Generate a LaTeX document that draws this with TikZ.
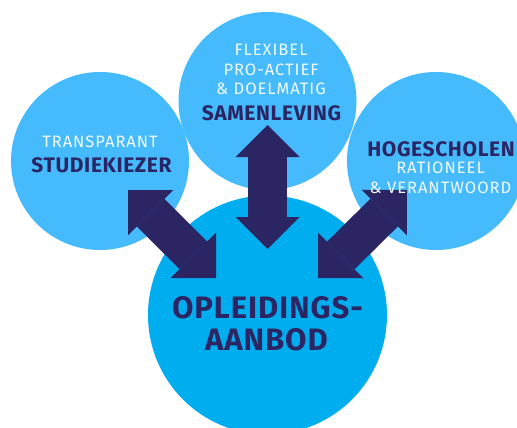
\documentclass[tikz,border=0pt]{standalone}
\usepackage{fontspec}
\setmainfont{Fira Sans}
\newfontfamily\dinreg[LetterSpace=6]{Fira Sans}
\newfontfamily\dinbold[LetterSpace=3]{Fira Sans}
\usetikzlibrary{positioning, arrows.meta, calc}
\definecolor{cirlight}{HTML}{45BBFD}
\definecolor{cirbig}{HTML}{00ADEE}
\definecolor{arrnavy}{HTML}{2B2564}
\definecolor{txtwhite}{HTML}{F2FAFF}

\tikzset{
  smallcirc/.style={circle, fill=cirlight, minimum size=178pt, inner sep=0pt},
  bigcirc/.style={circle, fill=cirbig, minimum size=239pt, inner sep=0pt},
  lighttxt/.style={text=txtwhite, anchor=base, inner sep=0pt, font=\dinreg\fontsize{16.5}{19}\selectfont},
  boldtxt/.style={text=arrnavy, anchor=base, inner sep=0pt, font=\dinbold\bfseries\fontsize{21}{24}\selectfont},
  hugetxt/.style={text=arrnavy, anchor=base, inner sep=0pt, font=\dinbold\bfseries\fontsize{31}{35}\selectfont},
  dblarrow/.style={line width=39pt, color=arrnavy,
    {Triangle[length=32pt,width=64pt,line width=0pt]}-{Triangle[length=32pt,width=64pt,line width=0pt]}},
}

\begin{document}
\begin{tikzpicture}[x=1pt, y=-1pt]
    \useasboundingbox (0,0) rectangle (517,428);
    \clip (0,0) rectangle (517,428);

    % circles
    \node[smallcirc] (studie) at (100,161) {};
    \node[smallcirc] (samen) at (267.5,101) {};
    \node[smallcirc] (hoge) at (436,161) {};
    \node[bigcirc] (aanbod) at (267.5,315) {};

    % arrow ends
    \coordinate (samen-end) at ($(samen)+(0,24)$);
    \coordinate (aanbod-top) at ($(aanbod)+(0,-66)$);
    \coordinate (studie-end) at ($(studie)+(28,29)$);
    \coordinate (aanbod-left) at ($(aanbod)+(-51.5,-37)$);
    \coordinate (hoge-end) at ($(hoge)+(-29,29)$);
    \coordinate (aanbod-right) at ($(aanbod)+(50.5,-37)$);

    \draw[dblarrow] (samen-end) -- (aanbod-top);
    \draw[dblarrow] (studie-end) -- (aanbod-left);
    \draw[dblarrow] (hoge-end) -- (aanbod-right);

    % texts
    \node[lighttxt] (flex) at (271,56) {FLEXIBEL};
    \node[lighttxt] (pro) at (271,76) {PRO-ACTIEF};
    \node[lighttxt] (doel) at (271,95) {\& DOELMATIG};
    \node[boldtxt] (samenlbl) at (271.5,121) {SAMENLEVING};

    \node[lighttxt] (trans) at (100,147) {TRANSPARANT};
    \node[boldtxt] (studielbl) at (101.5,172) {STUDIEKIEZER};

    \node[boldtxt] (hogelbl) at (441,156) {HOGESCHOLEN};
    \node[lighttxt] (ratio) at (440.5,173) {RATIONEEL};
    \node[lighttxt] (veran) at (440.5,193) {\& VERANTWOORD};

    \node[hugetxt] (opl) at (267.5,318) {OPLEIDINGS-};
    \node[hugetxt] (aanbodlbl) at (266.5,350) {AANBOD};
\end{tikzpicture}
\end{document}
